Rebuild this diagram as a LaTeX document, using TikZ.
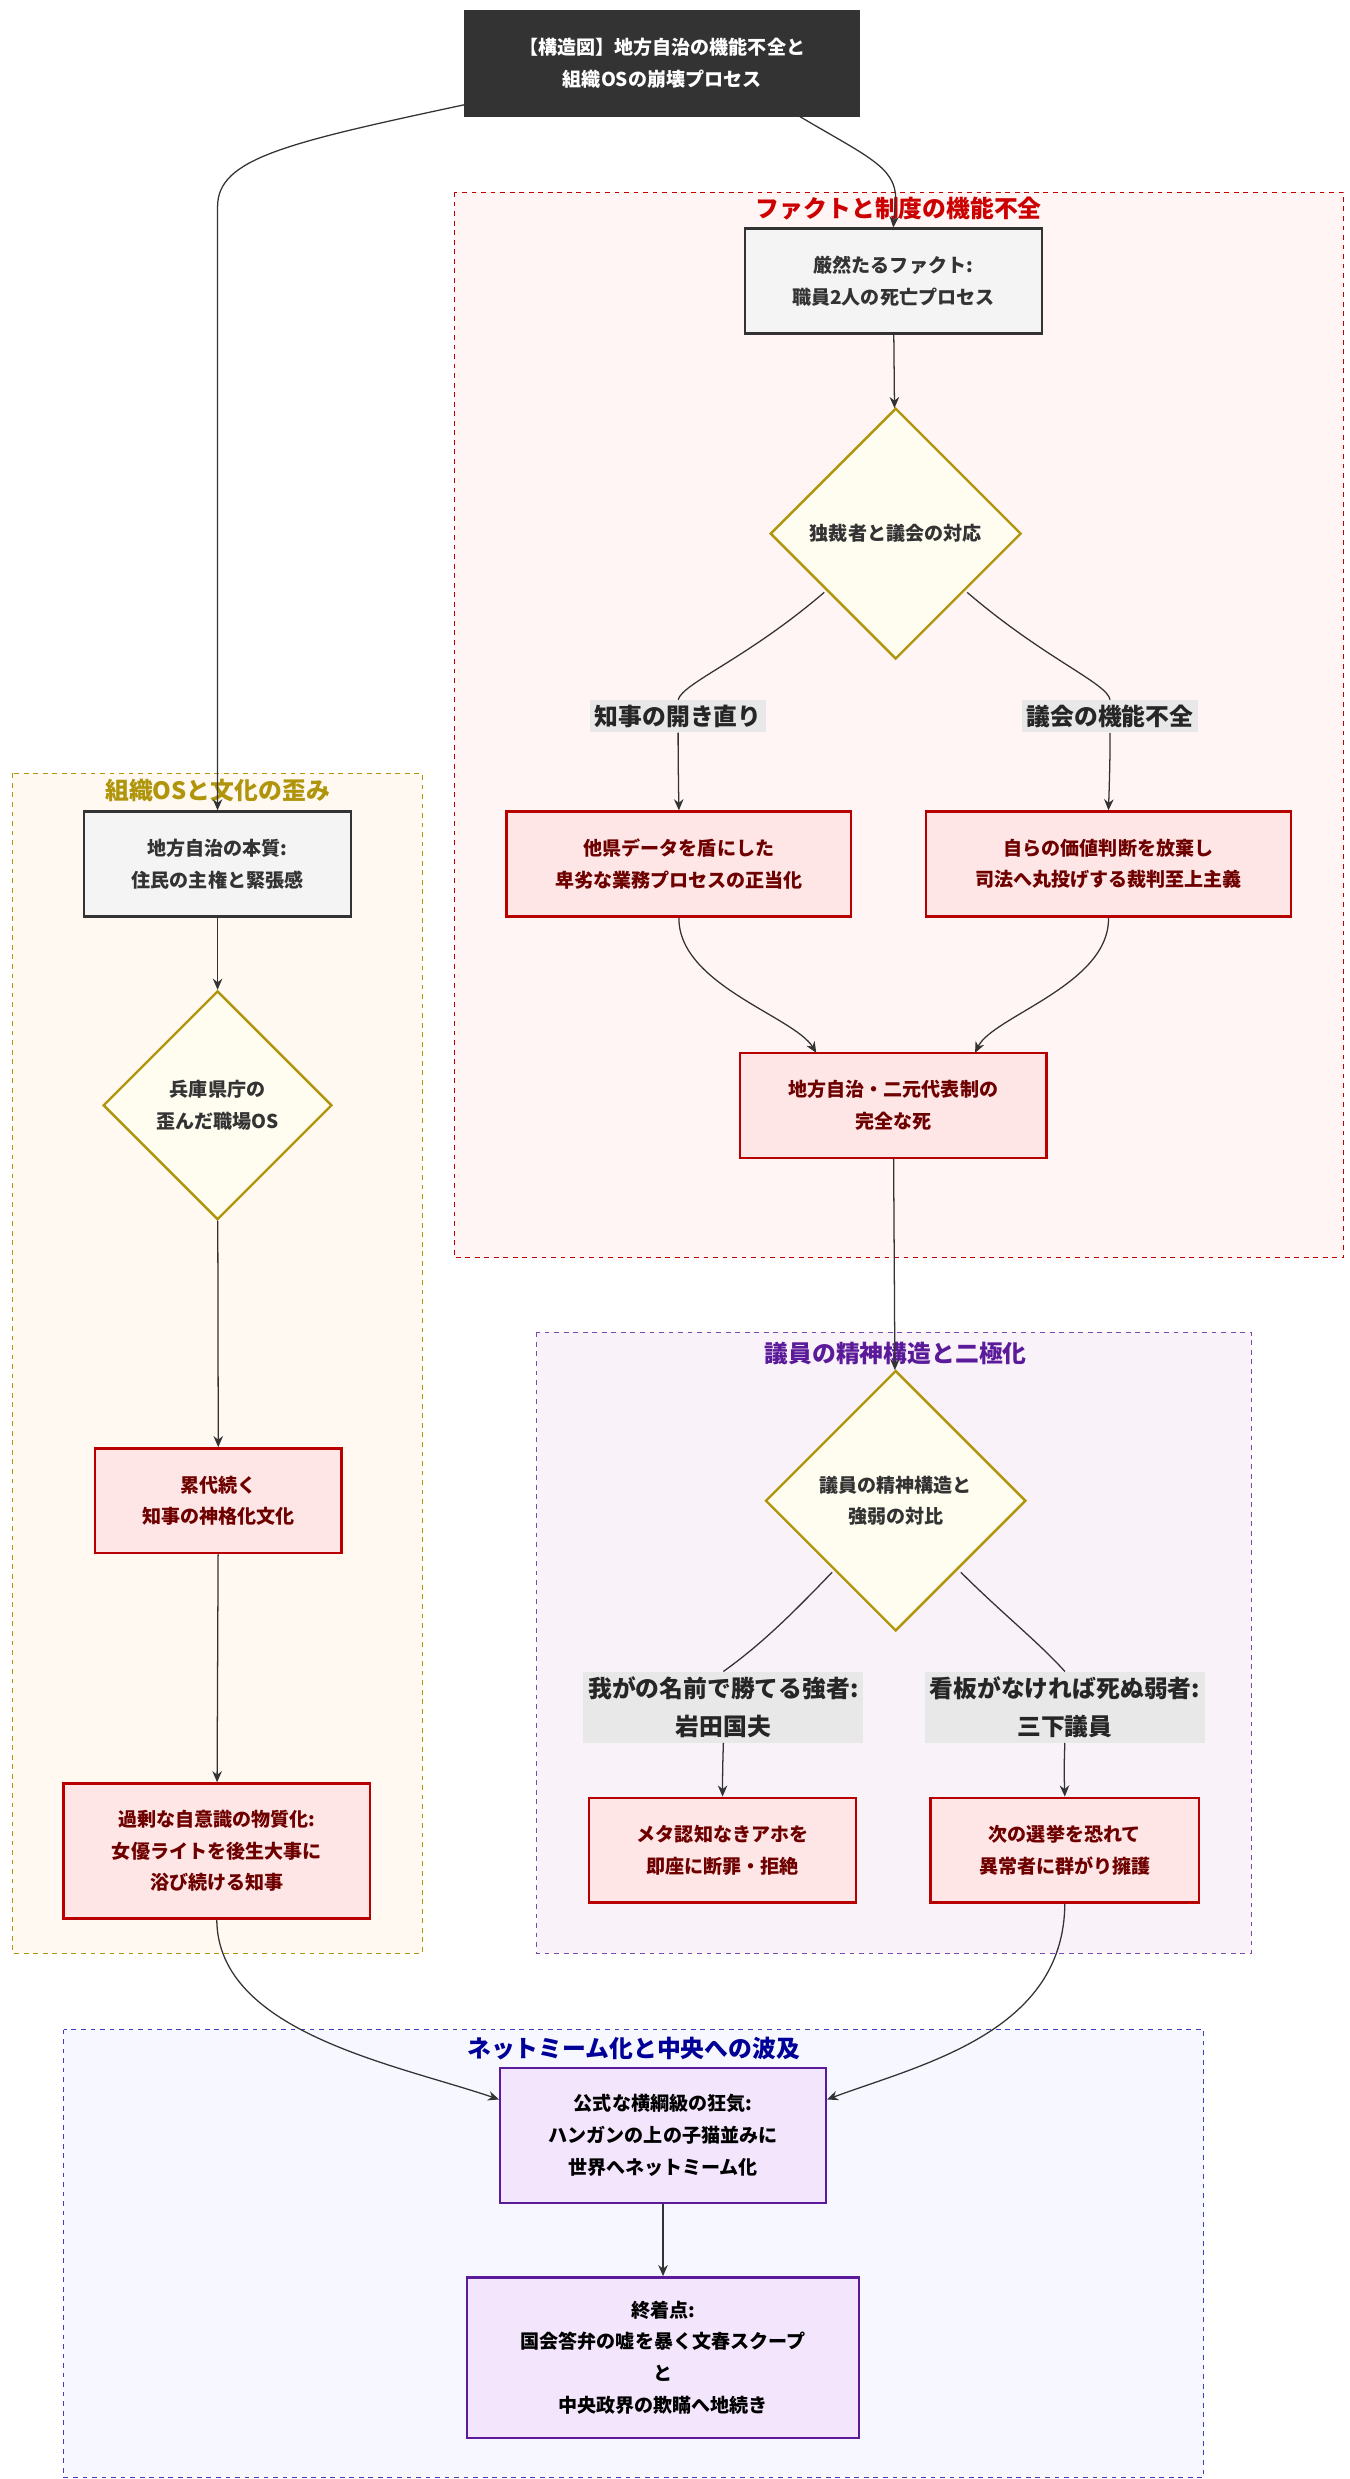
\documentclass[tikz,border=0pt]{standalone}
\usepackage{fontspec}
\setmainfont{Noto Sans CJK JP}
\usetikzlibrary{shapes.geometric,arrows.meta}
\definecolor{dk}{HTML}{333333}
\definecolor{rfill}{HTML}{FFE6E6}
\definecolor{rline}{HTML}{B80000}
\definecolor{gfill}{HTML}{F4F4F4}
\definecolor{yfill}{HTML}{FFFDF0}
\definecolor{yline}{HTML}{B0940A}
\definecolor{pfill}{HTML}{F3E5FC}
\definecolor{pline}{HTML}{5A1A9A}
\begin{document}
\begin{tikzpicture}[x=1pt,y=-1pt,
 every node/.style={font=\bfseries\fontsize{12}{20}\selectfont,align=center,inner sep=2pt},
 box/.style={draw,line width=1.5pt,rectangle},
 gbox/.style={box,draw=dk,fill=gfill,text=dk},
 rbox/.style={box,draw=rline,fill=rfill,text=rline!60!black},
 pbox/.style={box,draw=pline,fill=pfill,text=black},
 dia/.style={diamond,draw=yline,fill=yfill,line width=1.5pt,inner sep=0pt,text=dk},
 lab/.style={fill=black!9,text=black!85,font=\bfseries\fontsize{15}{24}\selectfont,inner sep=3pt},
 clu/.style={dashed,line width=0.8pt},
 ttl/.style={font=\bfseries\fontsize{15}{18}\selectfont},
 ar/.style={draw=dk,line width=0.8pt,-{Stealth[length=7pt,width=6pt]}}]
\useasboundingbox (0,0) rectangle (850,1561);
\fill[white] (0,0) rectangle (850,1561);
% clusters
\draw[clu,draw=red!75!black,fill=red!4] (286,121) rectangle (846,792);
\node[ttl,text=red!80!black] (t1) at (566,131) {ファクトと制度の機能不全};
\draw[clu,draw=yline,fill=orange!5] (8,487) rectangle (266,1230);
\node[ttl,text=yline] (t2) at (137,498) {組織OSと文化の歪み};
\draw[clu,draw=pline!80,fill=violet!5] (338,839) rectangle (788,1230);
\node[ttl,text=pline] (t3) at (564,852) {議員の精神構造と二極化};
\draw[clu,draw=blue!50!gray,fill=blue!3] (40,1278) rectangle (758,1560);
\node[ttl,text=blue!60!black] (t4) at (399,1290) {ネットミーム化と中央への波及};
% nodes
\node[box,draw=dk,fill=dk,text=white,minimum width=248pt,minimum height=66pt] (top) at (417,40) {【構造図】地方自治の機能不全と\\組織OSの崩壊プロセス};
\node[gbox,minimum width=187pt,minimum height=66pt] (fact) at (562.5,177) {厳然たるファクト:\\職員2人の死亡プロセス};
\node[dia,minimum width=158pt,minimum height=158pt] (d1) at (564,336) {独裁者と議会の対応};
\node[lab] (l1) at (427,451) {知事の開き直り};
\node[lab] (l2) at (699,451) {議会の機能不全};
\node[rbox,minimum width=217pt,minimum height=66pt] (r1) at (427.5,544) {他県データを盾にした\\卑劣な業務プロセスの正当化};
\node[rbox,minimum width=230pt,minimum height=66pt] (r2) at (698,544) {自らの価値判断を放棄し\\司法へ丸投げする裁判至上主義};
\node[rbox,minimum width=193pt,minimum height=66pt] (death) at (562.5,696) {地方自治・二元代表制の\\完全な死};
\node[gbox,minimum width=168pt,minimum height=66pt] (ess) at (137,544) {地方自治の本質:\\住民の主権と緊張感};
\node[dia,minimum width=144pt,minimum height=144pt] (d2) at (137,696) {兵庫県庁の\\歪んだ職場OS};
\node[rbox,minimum width=155pt,minimum height=66pt] (cult) at (137.5,945) {累代続く\\知事の神格化文化};
\node[rbox,minimum width=193pt,minimum height=85pt] (ego) at (136.5,1165.5) {過剰な自意識の物質化:\\女優ライトを後生大事に\\浴び続ける知事};
\node[dia,minimum width=164pt,minimum height=164pt] (d3) at (564,945) {議員の精神構造と\\強弱の対比};
\node[lab,minimum width=171pt] (l3) at (455.5,1075) {我がの名前で勝てる強者:\\岩田国夫};
\node[lab,minimum width=171pt] (l4) at (670.5,1075) {看板がなければ死ぬ弱者:\\三下議員};
\node[rbox,minimum width=168pt,minimum height=66pt] (s1) at (455,1165) {メタ認知なきアホを\\即座に断罪・拒絶};
\node[rbox,minimum width=169pt,minimum height=66pt] (s2) at (670.5,1165) {次の選挙を恐れて\\異常者に群がり擁護};
\node[pbox,minimum width=205pt,minimum height=85pt] (meme) at (417.5,1344.5) {公式な横綱級の狂気:\\ハンガンの上の子猫並みに\\世界へネットミーム化};
\node[pbox,minimum width=247pt,minimum height=101pt] (end) at (417.5,1484.5) {終着点:\\国会答弁の嘘を暴く文春スクープ\\と\\中央政界の欺瞞へ地続き};
% edges
\draw[ar] (top.west|-0,66) .. controls (180,90) and (137,100) .. (137,130) -- (ess.north);
\draw[ar] (503,73) .. controls (545,98) and (564,105) .. (564,125) -- (fact.north);
\draw[ar] (fact) -- (d1);
\draw[ar] (519,373) .. controls (470,415) and (430,430) .. (l1.north) (l1.south) .. controls (427,470) and (427,480) .. (r1.north);
\draw[ar] (609,373) .. controls (658,415) and (697,430) .. (l2.north) (l2.south) .. controls (699,470) and (699,480) .. (r2.north);
\draw[ar] (r1.south) .. controls (427,620) and (500,640) .. (514,663);
\draw[ar] (r2.south) .. controls (699,620) and (625,640) .. (614,663);
\draw[ar] (death) -- (d3);
\draw[ar] (ess) -- (d2);
\draw[ar] (d2) -- (cult);
\draw[ar] (cult) -- (ego);
\draw[ar] (524,990) .. controls (500,1015) and (480,1035) .. (l3.north) (l3.south) .. controls (455,1115) .. (s1.north);
\draw[ar] (605,990) .. controls (630,1015) and (655,1035) .. (l4.north) (l4.south) .. controls (670,1115) .. (s2.north);
\draw[ar] (ego.south) .. controls (137,1280) and (250,1300) .. (meme.west|-0,1322);
\draw[ar] (s2.south) .. controls (670,1280) and (580,1300) .. (meme.east|-0,1322);
\draw[ar] (meme) -- (end);
\end{tikzpicture}
\end{document}
